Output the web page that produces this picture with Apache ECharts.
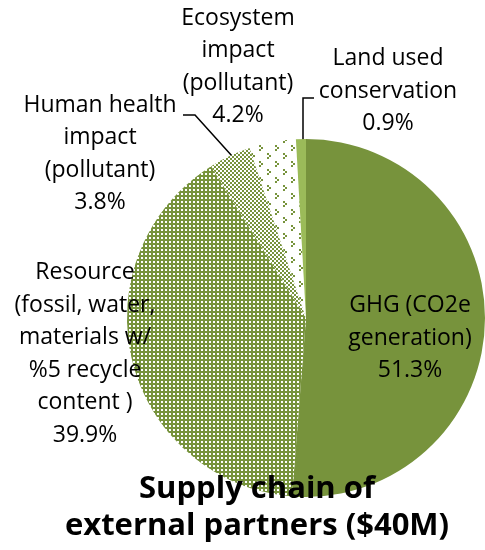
<!DOCTYPE html>
<html>
<head>
<meta charset="utf-8">
<script src="https://cdn.jsdelivr.net/npm/echarts@6/dist/echarts.min.js"></script>
<style>
  html, body { margin: 0; padding: 0; background: #fff; }
  #chart { width: 485px; height: 550px; }
</style>
</head>
<body>
<div id="chart"></div>
<script>
// slice data, clockwise from 12 o'clock
const categories = [
  'GHG (CO2e\ngeneration)',
  'Resource\n(fossil, water,\nmaterials w/\n%5 recycle\ncontent )',
  'Human health\nimpact\n(pollutant)',
  'Ecosystem\nimpact\n(pollutant)',
  'Land used\nconservation'
];
const shares = [51.3, 39.9, 3.8, 4.2, 0.9];

const GREEN = '#77933C';
const LIGHT = '#9BBB59';

// little canvas tiles to mimic the excel pattern fills
function tile(w, h, draw) {
  const c = document.createElement('canvas');
  c.width = w; c.height = h;
  const ctx = c.getContext('2d');
  draw(ctx);
  return { image: c, repeat: 'repeat' };
}
const smallGrid = tile(4, 4, ctx => {
  ctx.fillStyle = GREEN; ctx.fillRect(0, 0, 4, 4);
  ctx.fillStyle = '#fff'; ctx.fillRect(1, 1, 2, 2);
});
const checker = tile(4, 4, ctx => {
  ctx.fillStyle = '#fff'; ctx.fillRect(0, 0, 4, 4);
  ctx.fillStyle = GREEN; ctx.fillRect(0, 0, 2, 2); ctx.fillRect(2, 2, 2, 2);
});
const chevrons = tile(16, 16, ctx => {
  ctx.fillStyle = '#fff'; ctx.fillRect(0, 0, 16, 16);
  ctx.fillStyle = GREEN;
  [[3, 1], [11, 9]].forEach(([x, y]) => {
    ctx.fillRect(x, y, 2, 2);
    ctx.fillRect(x + 2, y + 2, 2, 2);
    ctx.fillRect(x, y + 4, 2, 2);
  });
});
const fills = [GREEN, smallGrid, checker, chevrons, LIGHT];

// label anchor spots + leader lines (layout only)
const labelSpots = [
  { x: 410, y: 338, line: null },
  { x: 85, y: 354, line: null },
  { x: 100, y: 154, line: [[232, 156], [195, 115], [183, 115]] },
  { x: 238, y: 67, line: null },
  { x: 388, y: 91, line: [[303, 140], [303, 98], [314, 98]] }
];

const chart = echarts.init(document.getElementById('chart'));
chart.setOption({
  animation: false,
  title: {
    text: 'Supply chain of\nexternal partners ($40M)',
    left: 257,
    top: 471,
    padding: 0,
    textAlign: 'center',
    textStyle: {
      fontFamily: 'Open Sans',
      fontWeight: 'bold',
      fontSize: 31,
      lineHeight: 37,
      color: '#000'
    }
  },
  series: [{
    type: 'pie',
    center: [306, 318],
    radius: 179,
    startAngle: 90,
    clockwise: true,
    silent: true,
    avoidLabelOverlap: false,
    data: categories.map((name, i) => ({
      name: name,
      value: shares[i],
      itemStyle: { color: fills[i], borderWidth: 0 },
      labelLine: { show: !!labelSpots[i].line }
    })),
    label: {
      show: true,
      position: 'outside',
      overflow: 'none',
      formatter: p => p.name + '\n' + p.value.toFixed(1) + '%',
      fontFamily: 'Open Sans',
      fontSize: 23,
      lineHeight: 32.5,
      color: '#000',
      align: 'center'
    },
    labelLine: {
      lineStyle: { color: '#000', width: 1.5 }
    },
    labelLayout: p => {
      const s = labelSpots[p.dataIndex];
      const out = { x: s.x, y: s.y, align: 'center', verticalAlign: 'middle', hideOverlap: false };
      if (s.line) out.labelLinePoints = s.line;
      return out;
    }
  }]
});
</script>
</body>
</html>
